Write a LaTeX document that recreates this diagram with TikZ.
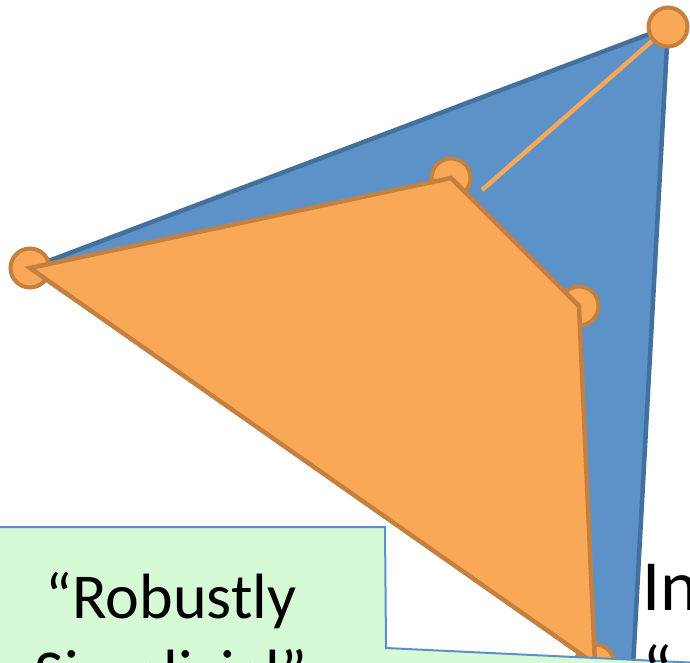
\documentclass[tikz,border=0pt]{standalone}
\usepackage{fontspec}
\setmainfont{Carlito}
\usetikzlibrary{positioning}
\definecolor{triblue}{RGB}{92,146,200}
\definecolor{triedge}{RGB}{66,113,158}
\definecolor{polyfill}{RGB}{248,168,86}
\definecolor{polyedge}{RGB}{196,128,62}
\definecolor{boxgreen}{RGB}{213,250,213}
\definecolor{boxedge}{RGB}{92,144,204}
\tikzset{
    tri/.style={fill=triblue, draw=triedge, line width=4.5pt, line join=round},
    poly/.style={fill=polyfill, draw=polyedge, line width=4.5pt, line join=miter},
    vtx/.style={circle, fill=polyfill, draw=polyedge, line width=4pt, minimum size=39pt, inner sep=0pt},
    link/.style={draw=polyfill, line width=4.5pt},
    greenbox/.style={fill=boxgreen},
    boxline/.style={draw=boxedge, line width=2pt},
    txt/.style={align=center, inner sep=0pt, font=\fontsize{64}{76}\selectfont},
    sidetxt/.style={align=left, inner sep=0pt, font=\fontsize{72}{86}\selectfont}
}
\begin{document}
\begin{tikzpicture}[x=1pt, y=-1pt]
    \useasboundingbox (0,0) rectangle (690,662);
    \clip (0,0) rectangle (690,662);

    % corners
    \coordinate (a) at (30,268);
    \coordinate (b) at (668,27);
    \coordinate (c) at (632,685);
    \coordinate (p) at (451,178);
    \coordinate (q) at (579,306);
    \coordinate (r) at (595,664);
    \coordinate (e) at (482,190);

    % blue triangle
    \draw [tri] (a) -- (b) -- (c) -- cycle;
    \draw [link] (b) -- (e);

    % vertices
    \node [vtx] (va) at (a) {};
    \node [vtx] (vb) at (b) {};
    \node [vtx] (vp) at (p) {};
    \node [vtx] (vq) at (q) {};
    \node [vtx] (vr) at (r) {};

    % orange polygon
    \draw [poly] (a) -- (p) -- (q) -- (r) -- cycle;

    % boxes
    \fill [greenbox] (-50,527) -- (385,527) -- (386,648) -- (700,663) -- (700,720) -- (-50,720) -- cycle;
    \draw [boxline] (-50,527) -- (385,527) -- (386,648) -- (700,663);

    \node [txt, anchor=base] (robust) at (171,694) {“Robustly\\Simplicial”};
    \node [sidetxt, anchor=base west] (side) at (642,696) {In\\“};
\end{tikzpicture}
\end{document}
